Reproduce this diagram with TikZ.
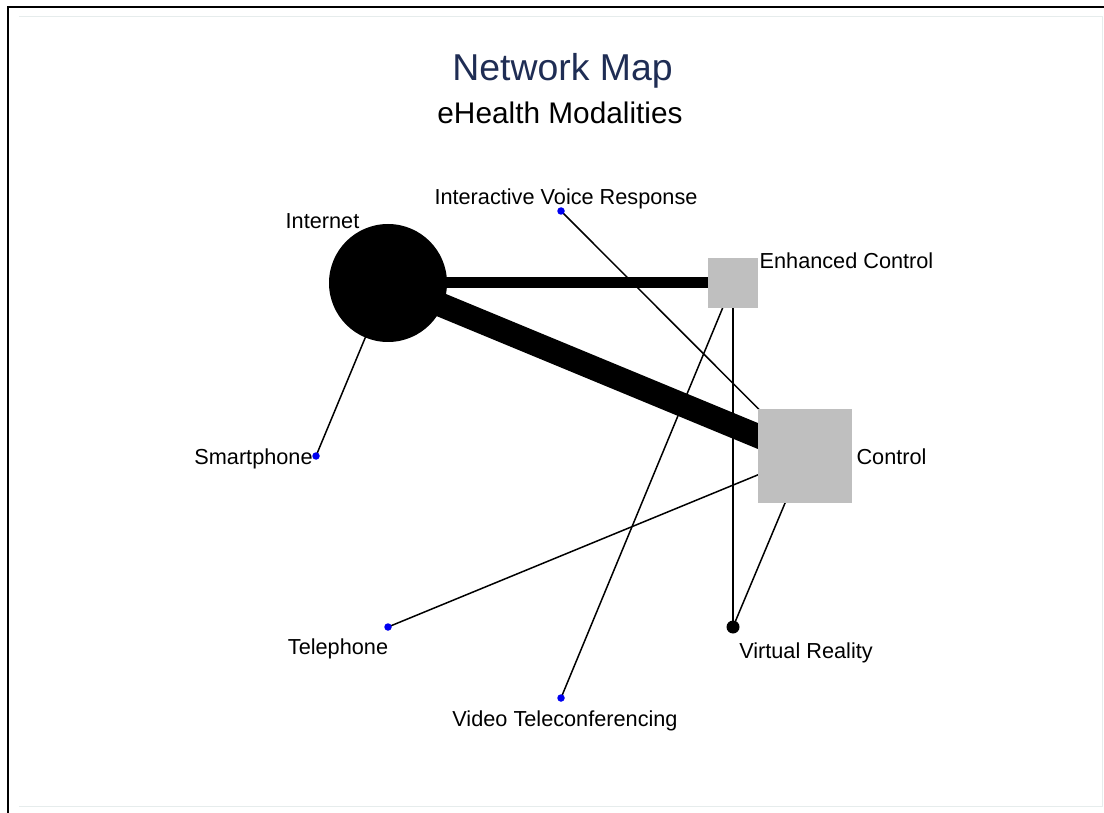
\documentclass[tikz,border=0pt]{standalone}
\usepackage{fontspec}
\setmainfont{Liberation Sans}
\usetikzlibrary{backgrounds}
\definecolor{titlenavy}{RGB}{31,45,84}
\definecolor{boxgray}{RGB}{191,191,191}
\definecolor{framegray}{RGB}{230,236,236}
\definecolor{dotblue}{RGB}{0,0,240}
\begin{document}
\begin{tikzpicture}[x=1pt,y=-1pt,
  lbl/.style={anchor=base, font=\fontsize{21.7}{25}\selectfont, inner sep=0pt},
  armdot/.style={shape=circle, fill=dotblue, inner sep=0pt, minimum size=7.5pt},
  bigdot/.style={shape=circle, fill=black, inner sep=0pt},
  treat/.style={shape=rectangle, fill=boxgray, inner sep=0pt},
  link/.style={line width=1.5pt},
]
\useasboundingbox (0,0) rectangle (1104,813);

% page frame
\draw[framegray, line width=1pt] (19,16.7) -- (1102.3,16.7) -- (1102.3,806.3) -- (19,806.3);
\draw[line width=2.2pt] (8.3,813) -- (8.3,6.7) -- (1104,6.7);

% titles
\node[anchor=base, inner sep=0pt, text=titlenavy, font=\fontsize{37.4}{44}\selectfont] (title) at (562.5,81) {Network Map};
\node[anchor=base, inner sep=0pt, font=\fontsize{29.8}{35}\selectfont] (subtitle) at (560,124) {eHealth Modalities};

% treatment nodes
\node[bigdot, minimum size=118pt] (internet) at (388,283) {};
\node[treat, minimum size=50pt] (enhanced) at (733,283) {};
\node[treat, minimum size=94pt] (control) at (805,455.5) {};
\node[bigdot, minimum size=13pt] (vr) at (733,627) {};
\node[armdot] (ivr) at (561,211) {};
\node[armdot] (smart) at (316,456) {};
\node[armdot] (phone) at (388,627) {};
\node[armdot] (video) at (561,698) {};

% labels
\node[lbl] (internet-l) at (322.5,228.5) {Internet};
\node[lbl] (ivr-l) at (566,204.5) {Interactive Voice Response};
\node[lbl] (enhanced-l) at (846.5,269) {Enhanced Control};
\node[lbl] (smart-l) at (253.5,464.5) {Smartphone};
\node[lbl] (control-l) at (891.5,464) {Control};
\node[lbl] (phone-l) at (338,654.5) {Telephone};
\node[lbl] (vr-l) at (806,658.5) {Virtual Reality};
\node[lbl] (video-l) at (565,726.5) {Video Teleconferencing};

% comparisons, drawn beneath the nodes
\begin{pgfonlayer}{background}
\draw[line width=11pt] (internet.center) -- (enhanced.center);
\draw[line width=24pt] (internet.center) -- (control.center);
\draw[link] (internet.center) -- (smart.center);
\draw[link] (ivr.center) -- (control.center);
\draw[link] (enhanced.center) -- (video.center);
\draw[link] (enhanced.center) -- (vr.center);
\draw[link] (control.center) -- (phone.center);
\draw[link] (control.center) -- (vr.center);
\end{pgfonlayer}
\end{tikzpicture}
\end{document}
